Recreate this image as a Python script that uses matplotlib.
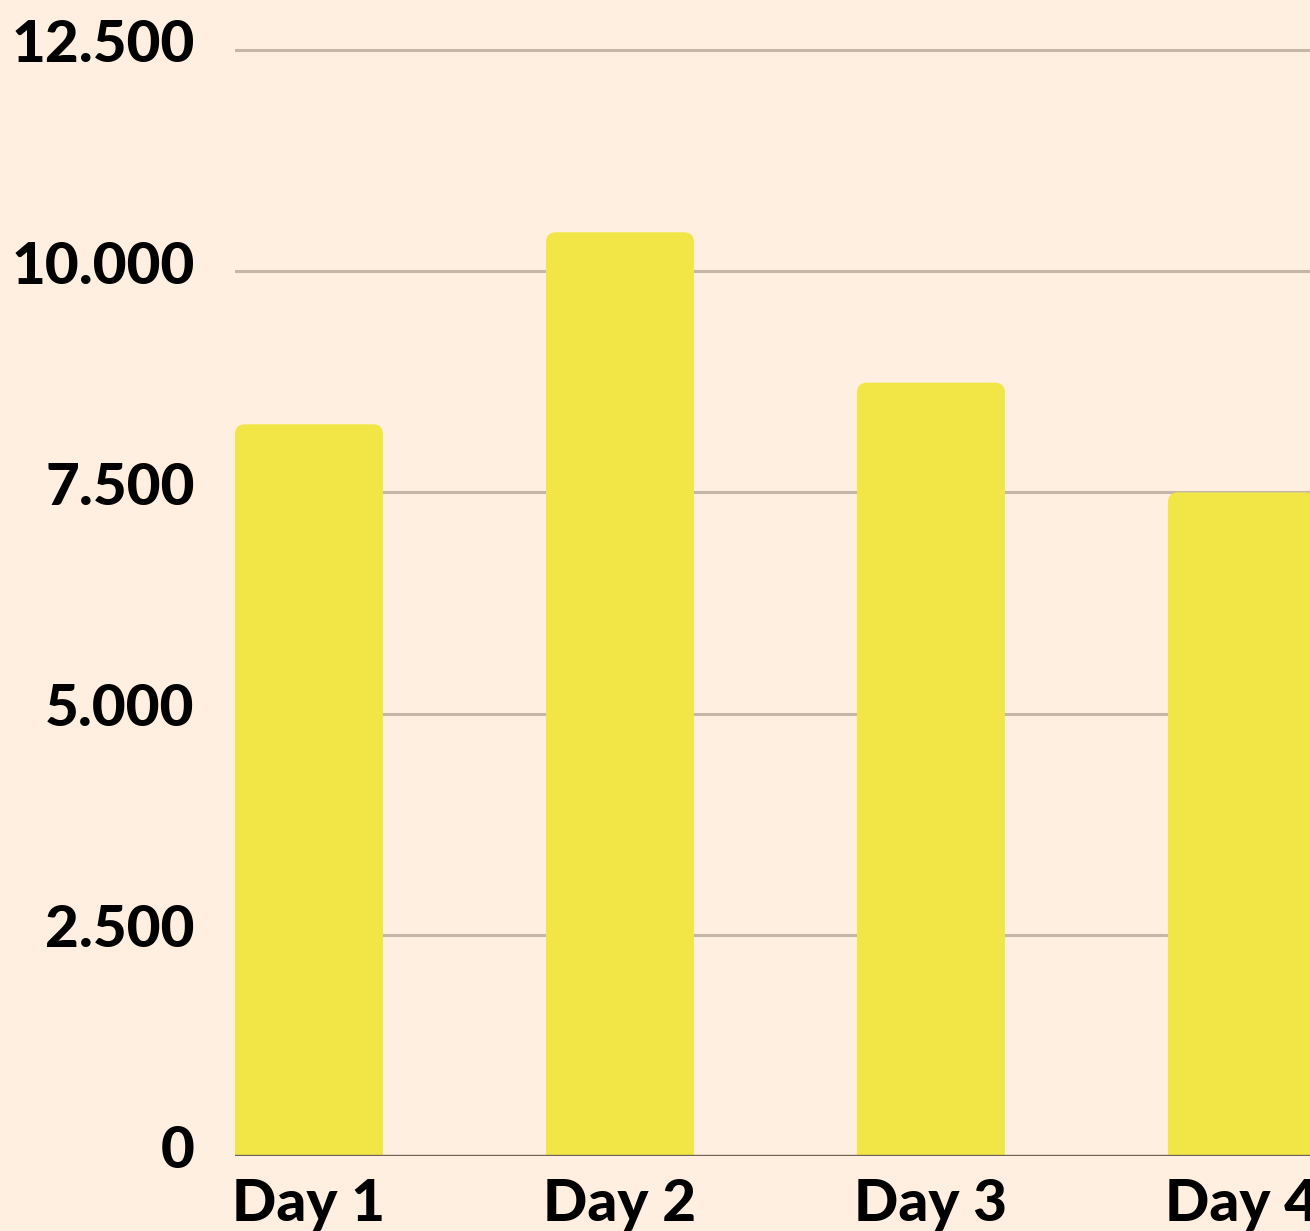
import matplotlib
matplotlib.use("Agg")
import matplotlib.pyplot as plt
from matplotlib.patches import FancyBboxPatch
from matplotlib.transforms import ScaledTranslation

categories = ["Day 1", "Day 2", "Day 3", "Day 4"]
values = [8270, 10440, 8740, 7500]
yticks = [0, 2500, 5000, 7500, 10000, 12500]
ytick_labels = ["0", "2.500", "5.000", "7.500", "10.000", "12.500"]

BG = "#FFEFE0"
BAR = "#F2E646"
GRID = "#C4B6A8"
BASE = "#6E6259"

plt.rcParams['font.family'] = ['Lato', 'DejaVu Sans']

fig = plt.figure(figsize=(13.1, 12.31), dpi=100, facecolor=BG)
ax = fig.add_axes([235/1310, 75/1231, 1 - 235/1310, 1156/1231])
ax.set_facecolor(BG)

width = 0.476
ymax = 1156/1106*12500
ax.set_xlim(-0.238, 3.219)
ax.set_ylim(0, ymax)

# pixels per data unit
px_x = 311.0
px_y = 1106/12500
r_px = 10
pad_x = r_px / px_x
pad_y = r_px / px_y
for i, v in enumerate(values):
    x0 = i - width/2
    p = FancyBboxPatch((x0 + pad_x, -400), width - 2*pad_x, v + 400 - pad_y,
                       boxstyle=f"round,pad={pad_x},rounding_size={pad_x}",
                       mutation_aspect=px_x / px_y,
                       facecolor=BAR, edgecolor="none", zorder=3)
    ax.add_patch(p)

ax.set_yticks(yticks)
ax.set_yticklabels(ytick_labels)
ax.set_xticks(range(len(categories)))
ax.set_xticklabels(categories)
ax.grid(axis='y', color=GRID, linewidth=2.2, zorder=1)
ax.set_axisbelow(True)
ax.axhline(0, color=BASE, linewidth=2.4, zorder=4)

for s in ax.spines.values():
    s.set_visible(False)
ax.tick_params(axis='both', length=0)
ax.tick_params(axis='y', pad=29)
ax.tick_params(axis='x', pad=16)
for lab in ax.get_yticklabels():
    lab.set_fontsize(42)
    lab.set_fontweight('black')
    lab.set_color('black')
    lab.set_transform(lab.get_transform() + ScaledTranslation(0, 9/100, fig.dpi_scale_trans))
for lab in ax.get_xticklabels():
    lab.set_fontsize(42)
    lab.set_fontweight('black')
    lab.set_color('black')

fig.savefig("out.png", dpi=100, facecolor=BG)
